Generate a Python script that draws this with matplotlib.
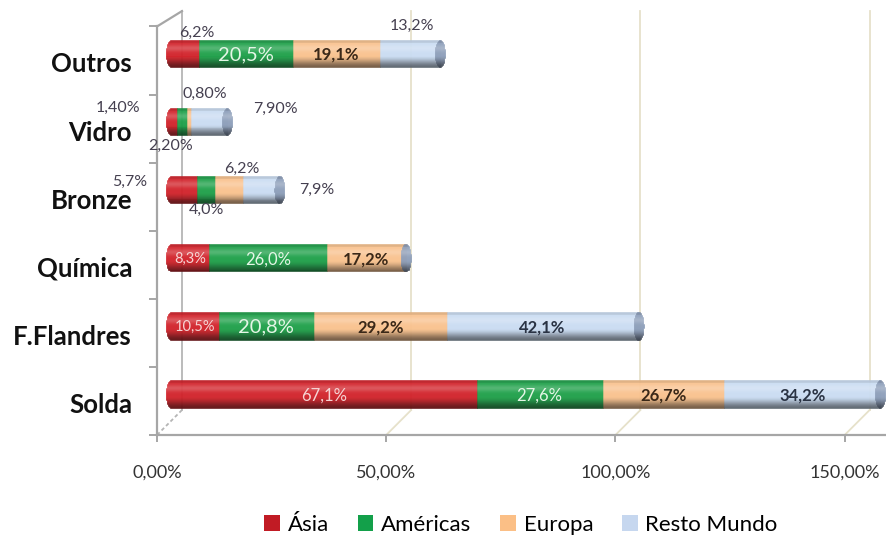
import numpy as np
import matplotlib
matplotlib.use("Agg")
import matplotlib.pyplot as plt
from matplotlib.colors import to_rgb
from matplotlib.patches import Patch

plt.rcParams["font.family"] = ["Lato", "DejaVu Sans"]

# consumo por setor e região (%), de baixo para cima
categorias = ["Solda", "F.Flandres", "Química", "Bronze", "Vidro", "Outros"]
asia = [67.1, 10.5, 8.3, 5.7, 1.40, 6.2]
americas = [27.6, 20.8, 26.0, 4.0, 2.20, 20.5]
europa = [26.7, 29.2, 17.2, 6.2, 0.80, 19.1]
resto_mundo = [34.2, 42.1, 0.0, 7.9, 7.90, 13.2]
casas = [1, 1, 1, 1, 2, 1]  # decimais do rótulo de cada categoria
series = ["Ásia", "Américas", "Europa", "Resto Mundo"]
xticks_val = [0, 50, 100, 150]

cores = ["#d2222a", "#1ea049", "#f9c28e", "#cadcf2"]
cores_leg = ["#c11b24", "#13a04a", "#fbbf86", "#c6d7ef"]
cor_tampa = "#8e9fba"
cor_txt = [("#f6d4d4", "normal"), ("#e4f6e6", "normal"), ("#3a2818", "bold"), ("#2a3344", "bold")]

# rótulos fora da barra: (categoria, série) -> deslocamento em pixels
fora = {(3, 0): (-54, 8), (3, 1): (0, -20), (3, 2): (12, 21), (3, 3): (55, 0),
        (4, 0): (-56, 14), (4, 1): (-12, -24), (4, 2): (16, 28), (4, 3): (66, 13),
        (5, 0): (12, 21), (5, 3): (2, 28)}
grandes = {(5, 1), (1, 1)}
pequenos = {(1, 0), (2, 0)}

X0 = -3.07          # plano frontal do eixo
XB = 2.41           # parede do fundo
PASSO = 50.3        # espaçamento das marcas no plano frontal
Y0, YT = -0.602, 5.64
YB_BASE, YB_TOPO = -0.235, 5.624
H = 0.40            # altura do cilindro
A = 1.1             # meia largura da elipse das pontas
N = 28


def tom(base, t):
    base = np.array(to_rgb(base))
    if t < 0.45:
        s = t / 0.45
        m = 0.45 + 0.55 * (3 * s ** 2 - 2 * s ** 3)
    elif t > 0.93:
        m = 0.9
    else:
        m = 1.0
    w = 0.2 * np.exp(-((t - 0.74) / 0.12) ** 2)
    c = base * m * (1 - w) + w
    return tuple(np.clip(c, 0, 1))


fig = plt.figure(figsize=(8.86, 5.40), dpi=100)
ax = fig.add_axes([157 / 886, 105 / 540, 729 / 886, 425 / 540])
ax.set_xlim(X0, 156.9)
ax.set_ylim(Y0, YT)

# parede do fundo e linhas de grade em perspectiva
for k in range(len(xticks_val)):
    cor = "#b5b5b5" if k == 0 else "#e6e1ca"
    xb, xf = XB + PASSO * k, X0 + PASSO * k
    ax.plot([xb, xb], [YB_BASE, YB_TOPO], color=cor, lw=1.3, zorder=1)
    ax.plot([xb, xf], [YB_BASE, Y0], color=cor, lw=1.3, zorder=1,
            ls=(0, (2, 1.5)) if k == 0 else "-", clip_on=False)
ax.plot([XB, X0], [YB_TOPO, 5.398], color="#a6a6a6", lw=1.6, zorder=1, clip_on=False)

dados = np.array([asia, americas, europa, resto_mundo]).T
for i, vals in enumerate(dados):
    total = vals.sum()
    for s in range(N):
        u = 2 * (s + 0.5) / N - 1
        t = (s + 0.5) / N
        y = i - H / 2 + (s + 0.5) * H / N
        e = A * np.sqrt(1 - u ** 2)
        esq = 0.0
        for j, v in enumerate(vals):
            if v <= 0:
                continue
            c = tom(cores[j], t)
            ini, larg = esq, v
            if esq == 0:
                ini, larg = -e, v + e
            ax.barh(y, larg, left=ini, height=H / N, color=c, edgecolor=c, lw=0.4, zorder=3)
            esq += v
        c = tom(cor_tampa, t)
        ax.barh(y, 2 * e, left=total - e, height=H / N, color=c, edgecolor=c, lw=0.4, zorder=4)

    esq = 0.0
    for j, v in enumerate(vals):
        if v <= 0:
            continue
        txt = f"{v:.{casas[i]}f}%".replace(".", ",")
        cx = esq + v / 2
        if (i, j) in fora:
            dx, dy = fora[(i, j)]
            ax.annotate(txt, (cx, i), xytext=(dx, dy), textcoords="offset pixels",
                        ha="center", va="center", fontsize=11.5, color="#454050", zorder=6,
                        annotation_clip=False)
        else:
            fs = 14.5 if (i, j) in grandes else (10.5 if (i, j) in pequenos else 12)
            cor, peso = cor_txt[j]
            ax.text(cx, i - 0.02, txt, ha="center", va="center", fontsize=fs,
                    color=cor, fontweight=peso, zorder=6)
        esq += v

# eixos frontais
for lado in ["top", "right"]:
    ax.spines[lado].set_visible(False)
ax.spines["left"].set_bounds(Y0, 5.398)
for lado in ["left", "bottom"]:
    ax.spines[lado].set_color("#a6a6a6")
    ax.spines[lado].set_linewidth(1.6)

ax.set_yticks([k - 0.13 for k in range(len(categorias))])
ax.set_yticklabels(categorias, fontsize=18.5, fontweight="bold", color="#111111")
ax.set_yticks([Y0 + k for k in range(7)], minor=True)
ax.tick_params(axis="y", which="major", length=0, pad=18)
ax.tick_params(axis="y", which="minor", length=6, width=1.4, color="#a6a6a6")

ax.set_xticks([X0 + PASSO * k for k in range(len(xticks_val))])
ax.set_xticklabels([f"{v:.2f}%".replace(".", ",") for v in xticks_val], fontsize=13, color="#333333")
ax.tick_params(axis="x", length=5, width=1.4, color="#a6a6a6", pad=16)

alcas = [Patch(facecolor=c, edgecolor="none") for c in cores_leg]
fig.legend(alcas, series, loc="center", bbox_to_anchor=(0.588, 0.028), ncol=4, frameon=False,
           fontsize=16, handlelength=0.7, handleheight=0.7, handletextpad=0.35, columnspacing=1.3)

fig.savefig("out.png", dpi=100, facecolor="white")
